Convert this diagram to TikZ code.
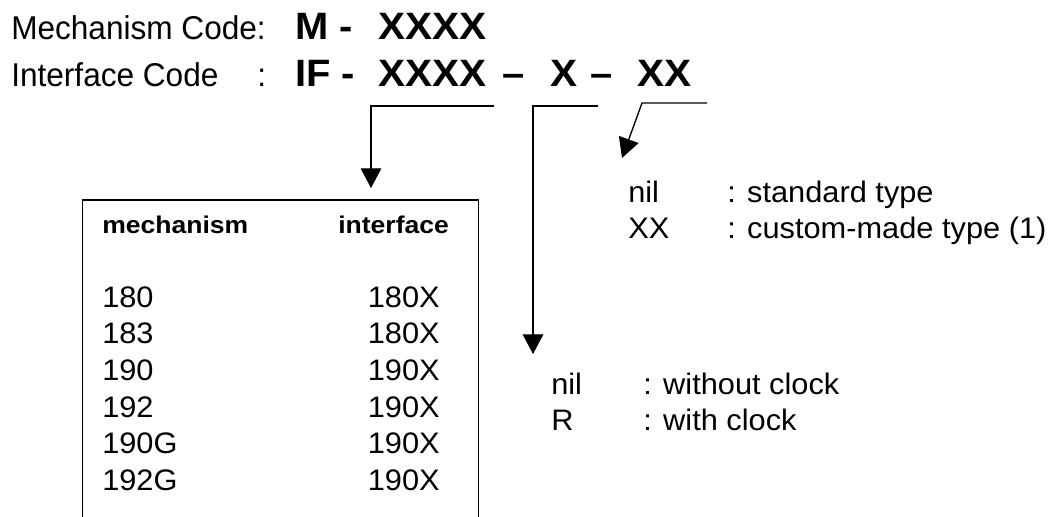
\documentclass[tikz,border=0pt]{standalone}
\usepackage{fontspec}
\setmainfont{Liberation Sans}
\usetikzlibrary{arrows.meta}
\newcommand\sx[1]{\scalebox{1.12}[1.08]{#1}}
\newcommand\sxh[1]{\scalebox{1.15}[1.05]{#1}}
\newcommand\sxt[1]{\scalebox{1.15}[1.2]{#1}}
\newcommand\sxb[1]{\scalebox{1.15}[1.1]{#1}}
\newcommand\sxx[1]{\scalebox{1.17}[1.1]{#1}}
\newcommand\regf{\fontsize{20.6pt}{24pt}\selectfont}
\newcommand\bigbf{\fontsize{26pt}{30pt}\selectfont\bfseries}
\newcommand\hdbf{\fontsize{17.3pt}{20pt}\selectfont\bfseries}
\begin{document}
\begin{tikzpicture}[x=0.75pt,y=-0.75pt,
  txt/.style={anchor=base west, inner sep=0pt, font=\regf},
  bigtxt/.style={anchor=base west, inner sep=0pt, font=\bigbf},
  hdtxt/.style={anchor=base west, inner sep=0pt, font=\hdbf},
  rtxt/.style={anchor=base east, inner sep=0pt, font=\regf},
  arr/.style={line width=1pt, -{Triangle[length=14.8pt,width=15.5pt]}},
  tblbox/.style={draw, line width=1.2pt, anchor=north west, inner sep=0pt, minimum width=297pt, minimum height=260pt},
]
\useasboundingbox (0,0) rectangle (1056,517);
\clip (0,0) rectangle (1056,517);
% title lines
\node[txt] (mc) at (11,40) {\sxt{Mechanism Code:}};
\node[bigtxt] (m) at (295,40) {\sxb{M -}};
\node[bigtxt] (mx) at (378,40) {\sxx{XXXX}};
\node[txt] (ic) at (11,87) {\sxt{Interface Code}};
\node[txt] (icc) at (257,87) {\sxt{:}};
\node[bigtxt] (if) at (295,87) {\sxb{IF -}};
\node[bigtxt] (ifa) at (378,87) {\sxx{XXXX}};
\node[bigtxt] (d1) at (502,87) {\sxb{–}};
\node[bigtxt] (ifb) at (550,87) {\sxx{X}};
\node[bigtxt] (d2) at (590,87) {\sxb{–}};
\node[bigtxt] (ifc) at (637,87) {\sxx{XX}};
% table
\node[tblbox] (tbl) at (81.7,199) {};
\node[hdtxt] (h1) at (102,233) {\sxh{mechanism}};
\node[hdtxt] (h2) at (338,233) {\sxh{interface}};
\foreach \m/\i/\y [count=\k] in {180/180X/307,183/180X/343,190/190X/380,192/190X/417,190G/190X/453,192G/190X/490}{
  \node[txt] (ml\k) at (102,\y) {\sx{\m}};
  \node[rtxt] (il\k) at (440,\y) {\sx{\i}};
}
% right labels
\node[txt] (n1) at (628,202) {\sx{nil}};
\node[txt] (n1t) at (727,202) {\sx{: standard type}};
\node[txt] (x1) at (628,238) {\sx{XX}};
\node[txt] (x1t) at (727,238) {\sx{: custom-made type (1)}};
\node[txt] (n2) at (551,394) {\sx{nil}};
\node[txt] (n2t) at (643,394) {\sx{: without clock}};
\node[txt] (r2) at (551,430) {\sx{R}};
\node[txt] (r2t) at (643,430) {\sx{: with clock}};
% connectors
\coordinate (b1s) at (494,106);
\coordinate (b1c) at (371,106);
\coordinate (b2s) at (598,106);
\coordinate (b2c) at (533,106);
\coordinate (t2) at (533,354);
\coordinate (b3s) at (707,103);
\coordinate (b3c) at (642,103);
\coordinate (t3) at (622,158);
\draw[arr, shorten >=8.25pt] (b1s) -- (b1c) -- (b1c |- tbl.north);
\draw[arr] (b2s) -- (b2c) -- (t2);
\draw[arr] (b3s) -- (b3c) -- (t3);
\end{tikzpicture}
\end{document}
